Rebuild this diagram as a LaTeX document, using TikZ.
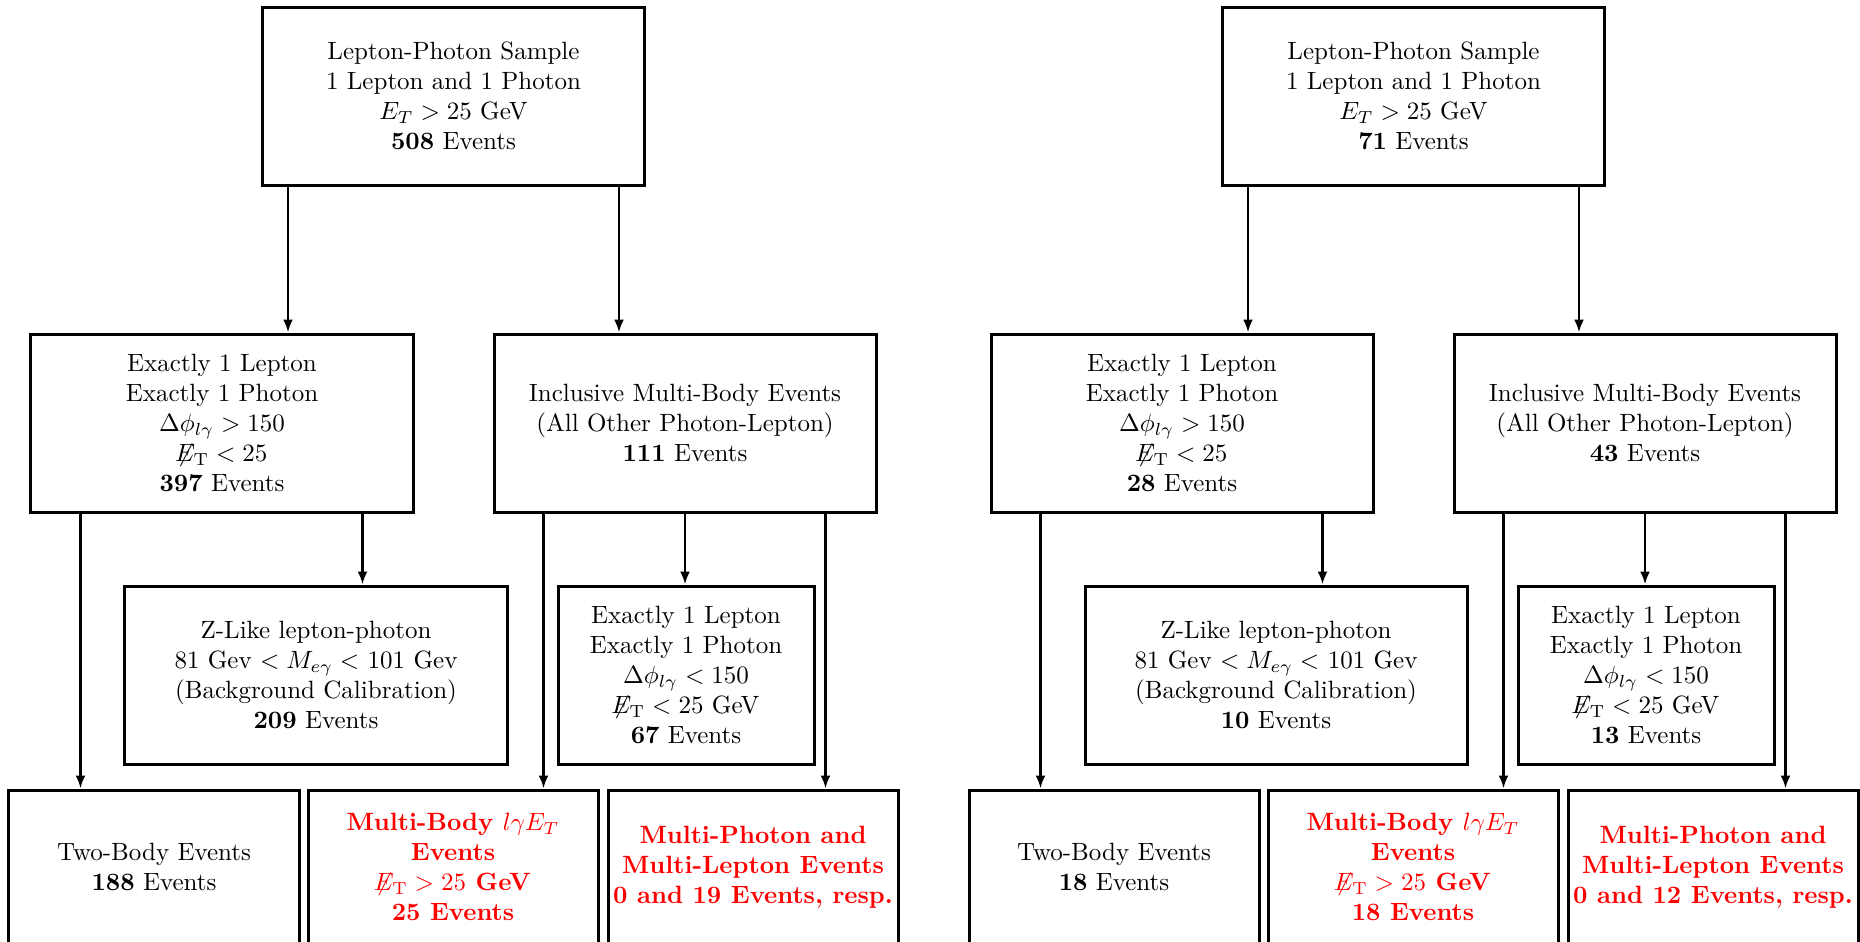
\documentclass[tikz,border=0pt]{standalone}
\usepackage{tikz}
\usetikzlibrary{arrows.meta}
\tikzstyle{cut}=[draw,rectangle,line width=1.2pt,align=center,inner sep=1pt]
\tikzstyle{wide}=[cut,minimum width=152.8pt,minimum height=71.2pt]
\tikzstyle{narrow}=[cut,minimum width=102.4pt,minimum height=71.2pt]
\tikzstyle{final}=[cut,minimum width=116pt,minimum height=61.6pt]
\tikzstyle{signal}=[text=red,font=\bfseries]
\tikzstyle{flow}=[line width=1.1pt,-{Latex[length=5.2pt,width=4pt]}]
\newcommand{\metslash}{\not\mkern-6mu E_{\mathrm{T}}}

\begin{document}
\begin{tikzpicture}[x=0.4pt,y=-0.4pt]
\useasboundingbox (0,0) rectangle (1860,941);
% left: full sample, right: second sample
\foreach \p/\sh/\na/\nb/\nc/\nd/\ne/\nf/\ng/\nh in
  {L/0/508/397/111/209/67/188/25/19, R/960/71/28/43/10/13/18/18/12}{
  \begin{scope}[shift={(\sh,0)}]
  \node[wide] (\p top) at (453.5,96) {Lepton-Photon Sample\\1 Lepton and 1 Photon\\$E_T > 25$ GeV\\\textbf{\na} Events};
  \node[wide] (\p single) at (222,423) {Exactly 1 Lepton\\Exactly 1 Photon\\$\Delta\phi_{l\gamma} > 150$\\$\metslash < 25$\\\textbf{\nb} Events};
  \node[wide] (\p multi) at (685,423) {Inclusive Multi-Body Events\\(All Other Photon-Lepton)\\\textbf{\nc} Events};
  \node[wide] (\p zlike) at (316,675) {Z-Like lepton-photon\\81 Gev $< M_{e\gamma} <$ 101 Gev\\(Background Calibration)\\\textbf{\nd} Events};
  \node[narrow] (\p rest) at (686,675) {Exactly 1 Lepton\\Exactly 1 Photon\\$\Delta\phi_{l\gamma} < 150$\\$\metslash < 25$ GeV\\\textbf{\ne} Events};
  \node[final] (\p twobody) at (154,867) {Two-Body Events\\\textbf{\nf} Events};
  \node[final,signal] (\p mbody) at (453,867) {Multi-Body $l\gamma E_T$\\Events\\$\metslash > 25$ GeV\\\ng\ Events};
  \node[final,signal] (\p mphot) at (753,867) {Multi-Photon and\\Multi-Lepton Events\\0 and \nh\ Events, resp.};
  \end{scope}
}
\foreach \p in {L,R}
  \foreach \src/\anc/\dx/\dst in {top/south west/10.8/single, top/south east/-10.8/multi,
      single/south west/20.4/twobody, single/south east/-20.8/zlike,
      multi/south west/20.4/mbody, multi/south/0/rest, multi/south east/-20.8/mphot}
    \draw[flow] ([xshift=\dx pt]\p\src.\anc) -- ([xshift=\dx pt]\p\src.\anc |- \p\dst.north);
\end{tikzpicture}
\end{document}
